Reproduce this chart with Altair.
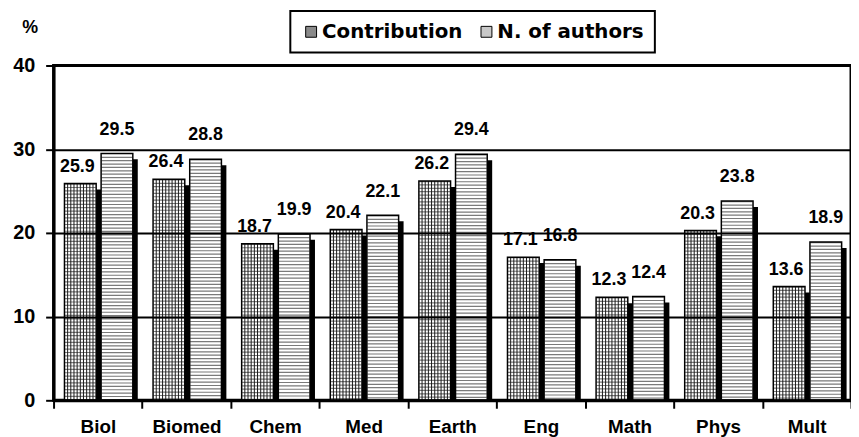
import altair as alt
import pandas as pd

categories = ["Biol", "Biomed", "Chem", "Med", "Earth", "Eng", "Math", "Phys", "Mult"]
series_names = ["Contribution", "N. of authors"]
contribution = [25.9, 26.4, 18.7, 20.4, 26.2, 17.1, 12.3, 20.3, 13.6]
authors = [29.5, 28.8, 19.9, 22.1, 29.4, 16.8, 12.4, 23.8, 18.9]
y_ticks = [0, 10, 20, 30, 40]
hatch_lines = list(range(9))

df = pd.DataFrame({
    "cat": categories * 2,
    "series": [series_names[0]] * len(categories) + [series_names[1]] * len(categories),
    "value": contribution + authors,
})
vdf = pd.DataFrame([
    {"cat": c, "k": k, "value": v}
    for c, v in zip(categories, contribution) for k in hatch_lines
])

FONT = "Liberation Sans"
LFONT = "DejaVu Sans"

x_enc = alt.X(
    "cat:N", sort=categories,
    scale=alt.Scale(paddingInner=0, paddingOuter=0),
    axis=alt.Axis(
        title=None, labelAngle=0, labelFont=FONT, labelFontSize=19, labelFontWeight="bold",
        labelColor="black", tickBand="extent", tickSize=8, tickWidth=2, tickColor="black",
        domainColor="black", domainWidth=3, labelPadding=9, grid=False, zindex=1,
    ),
)
y_enc = alt.Y(
    "value:Q",
    scale=alt.Scale(domain=[0, 40], nice=False, zero=True),
    axis=alt.Axis(
        values=y_ticks, tickSize=8, tickWidth=2, tickColor="black", domainColor="black",
        domainWidth=3, grid=True, gridColor="black", gridWidth=2, gridOpacity=1,
        labelFont=FONT, labelFontSize=20, labelFontWeight="bold", labelColor="black",
        labelPadding=11, title="%", titleAngle=0, titleX=-24, titleY=-38,
        titleAlign="center", titleBaseline="middle", titleFont=FONT, titleFontSize=18,
        titleFontWeight="bold", titleColor="black", zindex=1,
    ),
)
y0 = alt.datum(0)


def band_off(start, end):
    return alt.XOffset(
        "series:N",
        scale=alt.Scale(type="band", domain=series_names, range=[start, end],
                        paddingInner=5 / 37, paddingOuter=0),
    )


base = alt.Chart(df)

shadow = base.mark_bar(color="black", yOffset=6).encode(
    x=x_enc, xOffset=band_off(16, 85), y=y_enc, y2=y0
)
bars = base.mark_bar(color="white").encode(
    x=x_enc, xOffset=band_off(11, 80), y=y_enc, y2=y0
)
hstripes = base.mark_rule(strokeWidth=31, strokeDash=[1.2, 2.2], color="#7a7a7a").encode(
    x=x_enc, xOffset=band_off(11, 80), y=y_enc, y2=y0
)
vlines = alt.Chart(vdf).mark_rule(strokeWidth=1, color="#1a1a1a").encode(
    x=x_enc,
    xOffset=alt.XOffset("k:O", scale=alt.Scale(type="point", domain=hatch_lines,
                                                range=[14.2, 39.8], padding=0)),
    y=y_enc, y2=y0,
)
outline = base.mark_bar(fillOpacity=0, stroke="black", strokeWidth=1.5).encode(
    x=x_enc, xOffset=band_off(11, 80), y=y_enc, y2=y0
)
legend_layer = base.mark_square(size=0).encode(
    x=x_enc, y=y_enc,
    color=alt.Color(
        "series:N",
        scale=alt.Scale(domain=series_names, range=["#8a8a8a", "#c8c8c8"]),
        legend=alt.Legend(
            title=None, orient="none", legendX=239, legendY=-55, direction="horizontal",
            strokeColor="black", padding=11, fillColor="white",
            labelFont=LFONT, labelFontSize=20, labelFontWeight="bold", labelColor="black",
            symbolType="square", symbolSize=121, symbolStrokeColor="black",
            symbolStrokeWidth=1, symbolOpacity=1, labelOffset=1, columnPadding=14,
            labelLimit=300,
        ),
    ),
)
text_c = base.transform_filter(alt.datum.series == series_names[0]).mark_text(
    dy=-17, dx=-3, font=FONT, fontSize=18, fontWeight="bold", baseline="middle", color="black"
).encode(x=x_enc, xOffset=band_off(11, 80), y=y_enc, text=alt.Text("value:Q", format=".1f"))
text_a = base.transform_filter(alt.datum.series == series_names[1]).mark_text(
    dy=-24, font=FONT, fontSize=18, fontWeight="bold", baseline="middle", color="black"
).encode(x=x_enc, xOffset=band_off(11, 80), y=y_enc, text=alt.Text("value:Q", format=".1f"))

chart = alt.layer(
    shadow, bars, hstripes, vlines, outline, legend_layer, text_c, text_a
).resolve_scale(xOffset="independent").properties(
    width=805, height=338,
    autosize=alt.AutoSizeParams(type="none"),
    padding={"left": 46, "top": 56, "right": 0, "bottom": 35},
).configure_view(stroke="black", strokeWidth=3).configure_legend(strokeWidth=2)

chart.save("out.html", embed_options={"renderer": "svg", "actions": False})
